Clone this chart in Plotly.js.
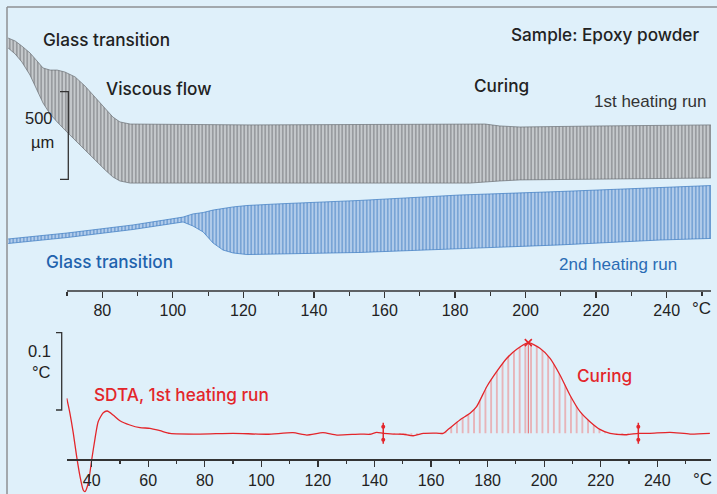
<!DOCTYPE html>
<html>
<head>
<meta charset="utf-8">
<script src="https://cdn.plot.ly/plotly-3.0.1.min.js"></script>
<style>html,body{margin:0;padding:0;background:#dff0fa;}#chart{width:717px;height:494px;}</style>
</head>
<body>
<div id="chart"></div>
<script>
// ---------- DATA ----------
// 1st heating run (DLTMA oscillation envelope), temperature in °C, displacement in µm
const RUN1_T      = [53.3, 55.3, 57.2, 59.5, 61.5, 63.2, 65.2, 67.2, 69.4, 72.3, 75.1, 77.9, 80.8, 83.0, 85.0, 87.9, 121.9, 184.2, 188.5, 192.7, 198.4, 221.1, 252.5];
const RUN1_TOP    = [1444, 1427, 1398, 1359, 1313, 1273, 1261, 1261, 1250, 1222, 1170, 1107, 1045, 993, 965, 953, 948, 953, 953, 942, 936, 942, 948];
const RUN1_BOTTOM = [1387, 1353, 1307, 1233, 1147, 1073, 1010, 965, 919, 862, 805, 748, 691, 651, 628, 616, 616, 616, 622, 628, 634, 639, 645];
// 2nd heating run
const RUN2_T      = [53.3, 70.0, 88.7, 102.9, 105.7, 108.6, 111.4, 114.2, 117.1, 121.0, 129.5, 153.1, 181.4, 209.8, 238.1, 252.5];
const RUN2_TOP    = [297, 331, 377, 422, 440, 448, 462, 471, 480, 488, 497, 517, 548, 568, 591, 602];
const RUN2_BOTTOM = [271, 305, 351, 394, 371, 337, 274, 234, 217, 208, 211, 220, 243, 263, 291, 300];
// SDTA, 1st heating run (°C)
const SDTA_T  = [31.2, 32.3, 33.5, 34.7, 35.9, 37.0, 37.6, 38.8, 40.0, 41.2, 42.3, 44.1, 45.5, 47.6, 50.0, 53.5, 57.1, 60.6, 64.2, 67.7, 78.3, 90.0, 102.0, 111.2, 116.1, 121.8, 126.7, 134.9, 138.4, 140.8, 143.1, 146.7, 150.2, 153.7, 157.3, 160.8, 164.3, 166.1, 170.2, 173.8, 176.1, 179.7, 183.2, 186.8, 190.3, 194.4, 198.5, 202.1, 205.6, 209.1, 212.7, 216.2, 219.7, 223.3, 229.2, 233.3, 237.4, 244.5, 251.6, 258.6];
const SDTA_DT = [0.0785, 0.0595, 0.0336, 0.0030, -0.0229, -0.0401, -0.0423, -0.0310, -0.0013, 0.0268, 0.0483, 0.0599, 0.0621, 0.0569, 0.0495, 0.0440, 0.0405, 0.0397, 0.0366, 0.0332, 0.0323, 0.0332, 0.0320, 0.0340, 0.0310, 0.0340, 0.0310, 0.0323, 0.0320, 0.0345, 0.0332, 0.0323, 0.0320, 0.0301, 0.0332, 0.0336, 0.0332, 0.0384, 0.0505, 0.0591, 0.0677, 0.0935, 0.1129, 0.1303, 0.1419, 0.1505, 0.1432, 0.1303, 0.1087, 0.0828, 0.0612, 0.0483, 0.0384, 0.0332, 0.0314, 0.0332, 0.0332, 0.0345, 0.0323, 0.0332];
const CURE_LIMITS = [143.1, 233.3];
const CURE_BASELINE = 0.0332;
const CURE_PEAK = [194.4, 0.1505];
// axis ticks
const TOP_TICKS = [80, 100, 120, 140, 160, 180, 200, 220, 240];
const TOP_MINOR = [70, 90, 110, 130, 150, 170, 190, 210, 230, 250];
const BOT_TICKS = [40, 60, 80, 100, 120, 140, 160, 180, 200, 220, 240];
const BOT_MINOR = [50, 70, 90, 110, 130, 150, 170, 190, 210, 230, 250];
const SCALE_UM = 500;
const SCALE_DT = 0.1;

// ---------- LAYOUT HELPERS ----------
const W = 717, H = 494;
const px = x => x / W;
const py = y => 1 - y / H;
const UM_PER_PX = 5.7078;
const DT_PER_PX = 1 / 773;
const REG = '"Liberation Sans", Arial, sans-serif';
const MED = 'Inter, "Liberation Sans", Arial, sans-serif';
const BLACK = '#222222', BLUE = '#1f63ad', RED = '#e3262b';

function band(T, top, bottom) {
  return { x: T.concat(T.slice().reverse()), y: top.concat(bottom.slice().reverse()) };
}
const b1 = band(RUN1_T, RUN1_TOP, RUN1_BOTTOM);
const b2 = band(RUN2_T, RUN2_TOP, RUN2_BOTTOM);

const segT = [], segY = [];
SDTA_T.forEach((t, i) => { if (t >= CURE_LIMITS[0] && t <= CURE_LIMITS[1]) { segT.push(t); segY.push(SDTA_DT[i]); } });

const limOff = 6.5 * DT_PER_PX;

const traces = [
  { x: b1.x, y: b1.y, xaxis: 'x', yaxis: 'y', mode: 'lines', fill: 'toself',
    line: { color: '#6a6e72', width: 0.7 },
    fillpattern: { shape: '|', size: 3.5, solidity: 0.22, fgcolor: '#5c6064', bgcolor: '#c6cacd' },
    hoverinfo: 'skip' },
  { x: b2.x, y: b2.y, xaxis: 'x', yaxis: 'y', mode: 'lines', fill: 'toself',
    line: { color: '#3a78c0', width: 0.7 },
    fillpattern: { shape: '|', size: 3.5, solidity: 0.22, fgcolor: '#2f6fba', bgcolor: '#b3cdeb' },
    hoverinfo: 'skip' },
  { x: CURE_LIMITS, y: [CURE_BASELINE, CURE_BASELINE], xaxis: 'x2', yaxis: 'y2', mode: 'lines',
    line: { color: 'rgba(0,0,0,0)', width: 0 }, hoverinfo: 'skip' },
  { x: segT, y: segY, xaxis: 'x2', yaxis: 'y2', mode: 'lines', fill: 'tonexty',
    line: { color: 'rgba(0,0,0,0)', width: 0, shape: 'spline', smoothing: 0.6 },
    fillpattern: { shape: '|', size: 5.7, solidity: 0.17, fgcolor: '#f07a7a', bgcolor: 'rgba(0,0,0,0)' },
    hoverinfo: 'skip' },
  { x: [CURE_PEAK[0], CURE_PEAK[0]], y: [CURE_BASELINE, CURE_PEAK[1]], xaxis: 'x2', yaxis: 'y2', mode: 'lines',
    line: { color: '#e85050', width: 0.9 }, hoverinfo: 'skip' },
  { x: SDTA_T, y: SDTA_DT, xaxis: 'x2', yaxis: 'y2', mode: 'lines',
    line: { color: RED, width: 1.3, shape: 'spline', smoothing: 0.6 }, hoverinfo: 'skip' },
  { x: [CURE_PEAK[0]], y: [CURE_PEAK[1]], xaxis: 'x2', yaxis: 'y2', mode: 'markers',
    marker: { symbol: 'x-thin', size: 7, line: { color: RED, width: 1.6 } }, hoverinfo: 'skip' },
  { x: CURE_LIMITS, y: [CURE_BASELINE, CURE_BASELINE], xaxis: 'x2', yaxis: 'y2', mode: 'markers',
    marker: { symbol: 'line-ns', size: 15, line: { color: RED, width: 1.5 } }, hoverinfo: 'skip' },
  { x: CURE_LIMITS.concat(CURE_LIMITS), y: [CURE_BASELINE + limOff, CURE_BASELINE + limOff, CURE_BASELINE - limOff, CURE_BASELINE - limOff],
    xaxis: 'x2', yaxis: 'y2', mode: 'markers',
    marker: { symbol: 'circle', size: 4, color: RED }, hoverinfo: 'skip' }
];

const tickCommon = {
  showgrid: false, zeroline: false, ticks: 'outside', ticklen: 6, tickwidth: 1.3, tickcolor: '#333',
  tickfont: { family: REG, size: 16, color: BLACK }, fixedrange: true
};

const umBase = (291 - 179.3) * UM_PER_PX;
const dtBase = (459 - 410) * DT_PER_PX;

const shapes = [
  // frame
  { type: 'line', xref: 'paper', yref: 'paper', x0: px(7), x1: 1, y0: py(7), y1: py(7), line: { color: '#8e9093', width: 1.5 } },
  { type: 'line', xref: 'paper', yref: 'paper', x0: px(7), x1: px(7), y0: py(7), y1: 0, line: { color: '#8e9093', width: 1.5 } },
  // top axis line
  { type: 'line', xref: 'x', yref: 'paper', x0: 70, x1: 252.56, y0: py(291), y1: py(291), line: { color: '#333', width: 1.5 } },
  // 500 µm scale bar
  { type: 'path', xref: 'paper', yref: 'y',
    path: `M ${px(60)},${umBase + SCALE_UM} L ${px(68.3)},${umBase + SCALE_UM} L ${px(68.3)},${umBase} L ${px(60)},${umBase}`,
    line: { color: '#333', width: 1.3 } },
  // 0.1 °C scale bar
  { type: 'path', xref: 'paper', yref: 'y2',
    path: `M ${px(56)},${dtBase + SCALE_DT} L ${px(61.7)},${dtBase + SCALE_DT} L ${px(61.7)},${dtBase} L ${px(56)},${dtBase}`,
    line: { color: '#333', width: 1.3 } }
];

function ann(text, x, y, xanchor, color, family, weight, size) {
  return { text, xref: 'paper', yref: 'paper', x: px(x), y: py(y), xanchor, yanchor: 'middle',
    showarrow: false, borderpad: 0, font: { family, size: size || 16.5, color, weight } };
}

const annotations = [
  ann('Glass transition', 42, 39, 'left', BLACK, MED, 500, 17.2),
  ann('Viscous flow', 105, 88, 'left', BLACK, MED, 500, 17.2),
  ann('Curing', 473, 85.5, 'left', BLACK, MED, 500, 17.2),
  ann('Sample: Epoxy powder', 510, 34.5, 'left', BLACK, MED, 500, 17.2),
  ann('1st heating run', 707, 101.5, 'right', '#333', REG, 400, 17),
  ann('500', 54, 117.5, 'right', BLACK, REG, 400, 16.5),
  ann('µm', 55, 142, 'right', BLACK, REG, 400, 16.5),
  ann('Glass transition', 45, 261.5, 'left', BLUE, MED, 500, 17.2),
  ann('2nd heating run', 558, 264, 'left', '#2a6cb5', REG, 400, 17),
  ann('°C', 701, 308, 'center', BLACK, REG, 400, 17),
  ann('0.1', 52, 351, 'right', BLACK, REG, 400, 16.5),
  ann('°C', 52, 372, 'right', BLACK, REG, 400, 16.5),
  ann('SDTA, 1st heating run', 93, 394, 'left', RED, MED, 500, 17.2),
  ann('Curing', 576, 375, 'left', RED, MED, 500, 17.2),
  ann('°C', 702.5, 479, 'center', BLACK, REG, 400, 17)
];

const layout = {
  width: W, height: H,
  margin: { l: 0, r: 0, t: 0, b: 0, pad: 0 },
  paper_bgcolor: '#dff0fa', plot_bgcolor: 'rgba(0,0,0,0)',
  showlegend: false,
  xaxis: Object.assign({}, tickCommon, {
    domain: [px(8), px(711)], range: [53.27, 252.56], anchor: 'y', showline: false,
    tickmode: 'array', tickvals: TOP_TICKS, ticklabelstandoff: -1,
    minor: { tickmode: 'array', tickvals: TOP_MINOR, ticks: 'outside', ticklen: 3.5, tickwidth: 1.2, tickcolor: '#333' }
  }),
  yaxis: { domain: [py(291), 1], range: [0, 291 * UM_PER_PX], visible: false, fixedrange: true },
  xaxis2: Object.assign({}, tickCommon, {
    domain: [px(66.5), px(711)], range: [31.1, 259.0], anchor: 'free', position: py(459),
    showline: true, linecolor: '#333', linewidth: 1.5,
    tickmode: 'array', tickvals: BOT_TICKS,
    minor: { tickmode: 'array', tickvals: BOT_MINOR, ticks: 'outside', ticklen: 3.5, tickwidth: 1.2, tickcolor: '#333' }
  }),
  yaxis2: { domain: [0, py(320)], range: [(459 - 494) * DT_PER_PX, (459 - 320) * DT_PER_PX], anchor: 'x2', visible: false, fixedrange: true },
  shapes, annotations
};

Plotly.newPlot('chart', traces, layout, { displayModeBar: false, staticPlot: true });
</script>
</body>
</html>
